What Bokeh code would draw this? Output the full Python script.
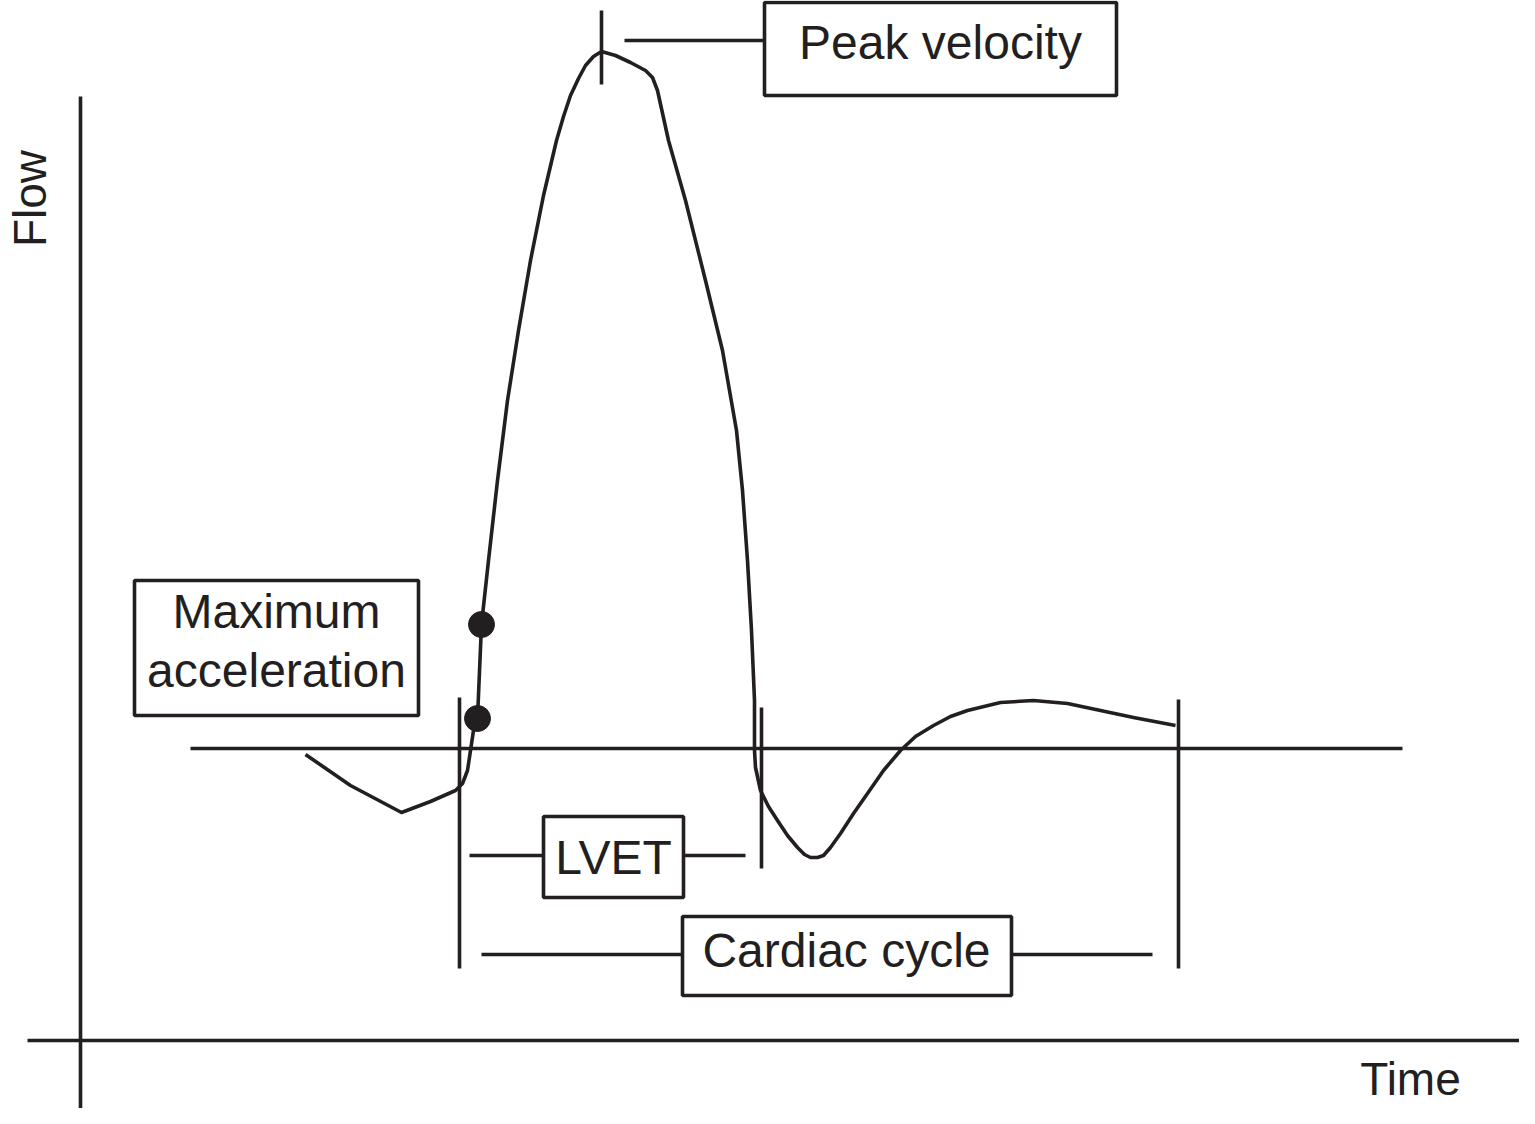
import math
from bokeh.plotting import figure
from bokeh.models import Range1d
from bokeh.core.properties import value
from bokeh.embed import file_html
from bokeh.resources import INLINE

INK = "#231f20"
FONT = value("Liberation Sans")

# waveform (time, flow), in picture units (y downward)
wave_x = [305, 350, 401, 430, 455, 462, 467, 470, 473, 477, 481, 488, 497, 507, 518, 530,
          543, 556, 563, 570, 578, 585, 593, 601, 615, 630, 645, 652, 657, 668, 685, 705,
          722, 736, 742, 747, 751, 754, 754, 755, 760, 768, 777, 787, 797, 804, 810, 817,
          823, 830, 840, 853, 867, 883, 900, 915, 933, 950, 967, 1000, 1033, 1067, 1100,
          1133, 1175]
wave_y = [754, 785, 812, 801, 790, 783, 770, 750, 730, 718, 624, 560, 480, 400, 330, 260,
          195, 140, 116, 95, 78, 65, 56, 51, 55, 62, 70, 77, 90, 140, 200, 280,
          350, 430, 490, 560, 630, 700, 750, 767, 790, 806, 820, 835, 847, 854, 857, 857,
          855, 847, 833, 813, 793, 770, 750, 736, 725, 716, 710, 702, 700, 703, 710,
          717, 725]

# maximum acceleration markers
dot_x = [481, 477]
dot_y = [624, 718]

# baseline and axes
base_y = 748
axis_x = 80
axis_y = 1040

p = figure(width=1519, height=1108, output_backend="svg", toolbar_location=None,
           x_range=Range1d(0, 1519), y_range=Range1d(1108, 0), min_border=0)
p.axis.visible = False
p.grid.visible = False
p.outline_line_color = None
p.background_fill_color = "white"
p.border_fill_color = "white"

LW = 3.6
# axes
p.segment(x0=[axis_x, 27], y0=[96, axis_y], x1=[axis_x, 1535], y1=[1122, axis_y],
          line_color=INK, line_width=LW)
# baseline
p.segment(x0=[190], y0=[base_y], x1=[1402], y1=[base_y], line_color=INK, line_width=LW)

# markers: vertical ticks and connectors
p.segment(x0=[601, 459, 761, 1178], y0=[10, 697, 707, 699],
          x1=[601, 459, 761, 1178], y1=[84, 968, 868, 968], line_color=INK, line_width=LW)
p.segment(x0=[624, 469, 683, 481, 1011], y0=[40, 855, 855, 954, 954],
          x1=[764, 543, 745, 682, 1152], y1=[40, 855, 855, 954, 954],
          line_color=INK, line_width=LW)

# waveform
p.line(wave_x, wave_y, line_color=INK, line_width=LW, line_join="round")
p.scatter(dot_x, dot_y, size=26, fill_color=INK, line_color=INK)

# boxes
p.quad(left=[764, 134, 543, 682], right=[1116, 418, 683, 1011],
       top=[2, 580, 816, 916], bottom=[95, 715, 897, 995],
       fill_color="white", line_color=INK, line_width=LW)

# labels
p.text(x=[940, 276, 276, 613, 846], y=[42, 611, 670, 857, 950],
       text=["Peak velocity", "Maximum", "acceleration", "LVET", "Cardiac cycle"],
       text_font=FONT, text_font_size="48px", text_color=INK,
       text_align="center", text_baseline="middle")
p.text(x=[1410], y=[1078], text=["Time"],
       text_font=FONT, text_font_size="46px", text_color=INK,
       text_align="center", text_baseline="middle")
p.text(x=[29], y=[198], text=["Flow"], angle=math.pi / 2,
       text_font=FONT, text_font_size="46px", text_color=INK,
       text_align="center", text_baseline="middle")

open("out.html", "w").write(file_html(p, INLINE))
